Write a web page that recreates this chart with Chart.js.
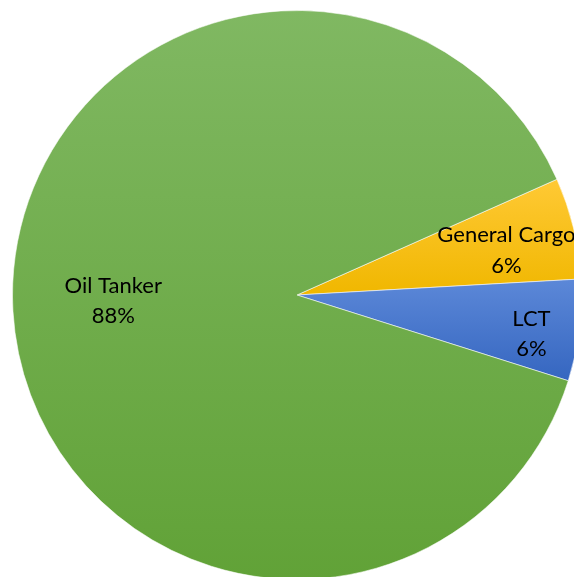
<!DOCTYPE html>
<html>
<head>
<meta charset="utf-8">
<script src="https://cdn.jsdelivr.net/npm/chart.js@4/dist/chart.umd.min.js"></script>
<style>
  html, body { margin: 0; padding: 0; background: #fff; overflow: hidden; }
  #wrap { width: 574px; height: 577px; overflow: hidden; }
  canvas { display: block; }
</style>
</head>
<body>
<div id="wrap"><canvas id="pieChart" width="594" height="590"></canvas></div>
<script>
// data
const categories = ["General Cargo", "LCT", "Oil Tanker"];
const shipCounts = [3, 3, 46];

// gradient colours per slice: lighter at top, darker at bottom
const topColors = ["#ffc935", "#5c88d8", "#80b862"];
const bottomColors = ["#f0b700", "#3566c0", "#61a237"];
// label placement inside each slice: share of the slice angle, share of the radius
const labelAngle = [0.57, 0.6, 0.505];
const labelDist = [0.753, 0.835, 0.646];

const ROTATION = 66; // degrees, first slice starts here (clockwise from top)

// vertical extent of a slice, worked out from the data and the chart area
function sliceYRange(chart, i) {
    const area = chart.chartArea;
    const cy = (area.top + area.bottom) / 2;
    const r = Math.min(area.right - area.left, area.bottom - area.top) / 2;
    const total = shipCounts.reduce((a, b) => a + b, 0);
    let start = -Math.PI / 2 + ROTATION * Math.PI / 180;
    for (let k = 0; k < i; k++) start += shipCounts[k] / total * Math.PI * 2;
    const end = start + shipCounts[i] / total * Math.PI * 2;
    let ys = [cy, cy + r * Math.sin(start), cy + r * Math.sin(end)];
    for (let k = -2; k <= 3; k++) {
        const a = Math.PI / 2 + k * Math.PI;
        if (a > start && a < end) ys.push(cy + r * Math.sin(a));
    }
    return [Math.min(...ys), Math.max(...ys)];
}

function sliceFill(ctx) {
    const chart = ctx.chart;
    if (!chart.chartArea) return topColors[ctx.dataIndex];
    const [y0, y1] = sliceYRange(chart, ctx.dataIndex);
    const g = chart.ctx.createLinearGradient(0, y0, 0, y1);
    g.addColorStop(0, topColors[ctx.dataIndex]);
    g.addColorStop(1, bottomColors[ctx.dataIndex]);
    return g;
}

// name + percentage inside each slice
const sliceLabels = {
    id: "sliceLabels",
    afterDatasetsDraw(chart) {
        const c = chart.ctx;
        const meta = chart.getDatasetMeta(0);
        const total = shipCounts.reduce((a, b) => a + b, 0);
        c.save();
        c.fillStyle = "#000";
        c.font = "22px Lato";
        c.textAlign = "center";
        c.textBaseline = "alphabetic";
        meta.data.forEach((arc, i) => {
            const ang = arc.startAngle + (arc.endAngle - arc.startAngle) * labelAngle[i];
            const d = arc.outerRadius * labelDist[i];
            const x = arc.x + Math.cos(ang) * d;
            const y = arc.y + Math.sin(ang) * d;
            const pct = Math.round(shipCounts[i] / total * 100) + "%";
            c.fillText(categories[i], x, y - 7.5);
            c.fillText(pct, x, y + 23);
        });
        c.restore();
    }
};

new Chart(document.getElementById("pieChart"), {
    type: "pie",
    data: {
        labels: categories,
        datasets: [{
            data: shipCounts,
            backgroundColor: sliceFill,
            borderColor: "rgba(255,255,255,0.55)",
            borderWidth: 1
        }]
    },
    options: {
        responsive: false,
        animation: false,
        rotation: ROTATION,
        layout: { padding: { left: 12, right: 12, top: 10, bottom: 10 } },
        plugins: {
            legend: { display: false },
            tooltip: { enabled: false }
        }
    },
    plugins: [sliceLabels]
});
</script>
</body>
</html>
